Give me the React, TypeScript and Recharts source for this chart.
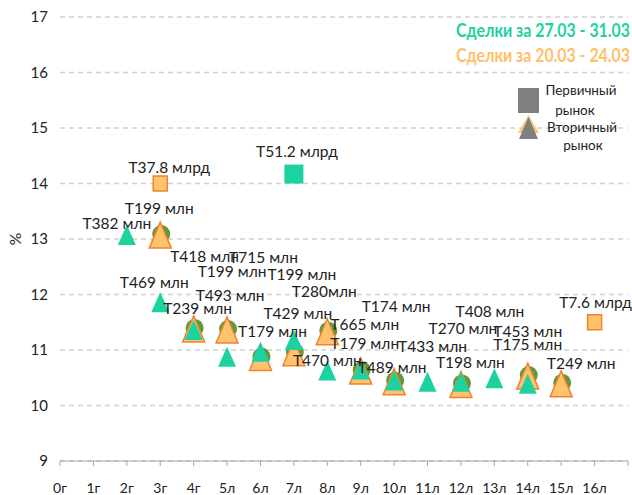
import { CartesianGrid, Scatter, ScatterChart, XAxis, YAxis } from 'recharts';

const GREEN = '#1DD1A1';
const ORANGE_FILL = '#FFC36E';
const ORANGE_LINE = '#F0822D';
const ORANGE_TEXT = '#FFC06A';
const DARK_GREEN = '#5E9A3B';
const GRAY = '#7F7F7F';
const TEXT = '#222222';
const FONT = "Lato, 'Noto Sans', sans-serif";

const CATEGORIES = ['0г', '1г', '2г', '3г', '4г', '5л', '6л', '7л', '8л', '9л', '10л', '11л', '12л', '13л', '14л', '15л', '16л'];
const X_TICKS = [0, 1, 2, 3, 4, 5, 6, 7, 8, 9, 10, 11, 12, 13, 14, 15, 16, 17];
const Y_TICKS = [9, 10, 11, 12, 13, 14, 15, 16, 17];

// Сделки за 27.03 - 31.03, вторичный рынок
const NEW_SEC_X = [2, 3, 4, 5, 6, 7, 8, 9, 10, 11, 12, 13, 14];
const NEW_SEC_Y = [13.07, 11.86, 11.36, 10.88, 10.97, 11.18, 10.63, 10.65, 10.45, 10.43, 10.43, 10.49, 10.39];
const NEW_SEC_LABELS = ['T382 млн', 'T469 млн', 'T239 млн', 'T199 млн', 'T179 млн', 'T429 млн', 'T470 млн', 'T179 млн', 'T489 млн', 'T433 млн', 'T270 млн', 'T198 млн', 'T175 млн'];

// Сделки за 20.03 - 24.03, вторичный рынок
const OLD_SEC_X = [3, 4, 5, 6, 7, 8, 9, 10, 12, 14, 15];
const OLD_SEC_Y = [13.07, 11.38, 11.36, 10.865, 10.95, 11.33, 10.62, 10.43, 10.38, 10.53, 10.39];
const OLD_SEC_LABELS = ['T199 млн', 'T418 млн', 'T493 млн', 'T715 млн', 'T199 млн', 'T280млн', 'T665 млн', 'T174 млн', 'T408 млн', 'T453 млн', 'T249 млн'];

// первичный рынок
const NEW_PRIM_X = [7];
const NEW_PRIM_Y = [14.17];
const NEW_PRIM_LABELS = ['T51.2 млрд'];

const OLD_PRIM_X = [3, 16];
const OLD_PRIM_Y = [14.0, 11.5];
const OLD_PRIM_LABELS = ['T37.8 млрд', 'T7.6 млрд'];

// label offsets from the marker, px
const NEW_SEC_OFFSETS = [[-10, -12], [-6, -20], [4, -22], [5, -86], [12, -21], [4, -27], [0, -11], [4, -26], [-2, -14], [5, -36], [2, -54], [-24, -16], [0, -40]];
const OLD_SEC_OFFSETS = [[-1, -27], [11, -73], [3, -35], [3, -100], [8, -79], [-3, -41], [4, -47], [2, -76], [29, -73], [0, -45], [20, -21]];
const NEW_PRIM_OFFSETS = [[3, -23]];
const OLD_PRIM_OFFSETS = [[9, -17], [1, -20]];

const toPoints = (xs: number[], ys: number[], labels: string[]) =>
  xs.map((x, i) => ({ x, y: ys[i], label: labels[i] }));

const toLabelPoints = (xs: number[], ys: number[], labels: string[], offsets: number[][]) =>
  xs.map((x, i) => ({ x, y: ys[i], label: labels[i], dx: offsets[i][0], dy: offsets[i][1] }));

const newSec = toPoints(NEW_SEC_X, NEW_SEC_Y, NEW_SEC_LABELS);
const oldSec = toPoints(OLD_SEC_X, OLD_SEC_Y, OLD_SEC_LABELS);
const newPrim = toPoints(NEW_PRIM_X, NEW_PRIM_Y, NEW_PRIM_LABELS);
const oldPrim = toPoints(OLD_PRIM_X, OLD_PRIM_Y, OLD_PRIM_LABELS);

const labelPoints = [
  ...toLabelPoints(OLD_SEC_X, OLD_SEC_Y, OLD_SEC_LABELS, OLD_SEC_OFFSETS),
  ...toLabelPoints(NEW_SEC_X, NEW_SEC_Y, NEW_SEC_LABELS, NEW_SEC_OFFSETS),
  ...toLabelPoints(NEW_PRIM_X, NEW_PRIM_Y, NEW_PRIM_LABELS, NEW_PRIM_OFFSETS),
  ...toLabelPoints(OLD_PRIM_X, OLD_PRIM_Y, OLD_PRIM_LABELS, OLD_PRIM_OFFSETS),
];

const BackCircle = ({ cx, cy }: any) => <circle cx={cx + 1} cy={cy - 1} r={9} fill={DARK_GREEN} />;

const OrangeTriangle = ({ cx, cy }: any) => (
  <polygon
    points={`${cx},${cy - 13} ${cx + 11},${cy + 13} ${cx - 11},${cy + 13}`}
    fill={ORANGE_FILL}
    stroke={ORANGE_LINE}
    strokeWidth={1.5}
  />
);

const GreenTriangle = ({ cx, cy }: any) => (
  <polygon points={`${cx},${cy - 10} ${cx + 9},${cy + 10} ${cx - 9},${cy + 10}`} fill={GREEN} />
);

const GreenSquare = ({ cx, cy }: any) => <rect x={cx - 9.5} y={cy - 9.5} width={19} height={19} fill={GREEN} />;

const OrangeSquare = ({ cx, cy }: any) => (
  <rect x={cx - 7} y={cy - 7.5} width={14} height={15} fill={ORANGE_FILL} stroke={ORANGE_LINE} strokeWidth={1.5} />
);

const PointLabel = ({ cx, cy, payload }: any) => (
  <text
    x={cx + payload.dx}
    y={cy + payload.dy}
    textAnchor="middle"
    dominantBaseline="central"
    fontSize={15.5}
    fontFamily={FONT}
    fill={TEXT}
  >
    {payload.label}
  </text>
);

export default function App() {
  return (
    <div style={{ position: 'absolute', left: 0, top: 0, width: 632, height: 495, background: '#fff' }}>
      <ScatterChart width={632} height={495} margin={{ top: 17, right: 4, bottom: 0, left: 0 }}>
        <CartesianGrid vertical={false} stroke="#D0D0D0" strokeDasharray="5 4" strokeWidth={1.3} />
        <XAxis
          type="number"
          dataKey="x"
          domain={[0, 17]}
          ticks={X_TICKS}
          interval={0}
          tickFormatter={(v: number) => CATEGORIES[v] ?? ''}
          stroke="#A6A6A6"
          tickSize={5}
          tickMargin={17}
          height={34}
          tick={{ fill: TEXT, fontSize: 14, fontFamily: FONT }}
        />
        <YAxis
          type="number"
          dataKey="y"
          domain={[9, 17]}
          ticks={Y_TICKS}
          interval={0}
          axisLine={false}
          tickLine={false}
          tickSize={0}
          tickMargin={12}
          width={60}
          tick={{ fill: TEXT, fontSize: 15, fontFamily: FONT }}
        />
        <Scatter data={oldSec} shape={BackCircle} isAnimationActive={false} />
        <Scatter data={oldSec} shape={OrangeTriangle} isAnimationActive={false} />
        <Scatter data={newSec} shape={GreenTriangle} isAnimationActive={false} />
        <Scatter data={oldPrim} shape={OrangeSquare} isAnimationActive={false} />
        <Scatter data={newPrim} shape={GreenSquare} isAnimationActive={false} />
        <Scatter data={labelPoints} shape={PointLabel} isAnimationActive={false} />
      </ScatterChart>
      <svg width={632} height={495} style={{ position: 'absolute', left: 0, top: 0, pointerEvents: 'none' }}>
        <text
          x={14}
          y={239}
          transform="rotate(-90 14 239)"
          textAnchor="middle"
          dominantBaseline="central"
          fontSize={16}
          fontFamily={FONT}
          fill={TEXT}
        >
          %
        </text>
        <text x={630} y={37} textAnchor="end" fontSize={19} fontWeight="bold" fontFamily={FONT} fill={GREEN} textLength={174} lengthAdjust="spacingAndGlyphs">
          Сделки за 27.03 - 31.03
        </text>
        <text x={630} y={62} textAnchor="end" fontSize={19} fontWeight="bold" fontFamily={FONT} fill={ORANGE_TEXT} textLength={174} lengthAdjust="spacingAndGlyphs">
          Сделки за 20.03 - 24.03
        </text>
        <rect x={518} y={88} width={21} height={25} fill={GRAY} />
        <polygon points="528.5,115 539,133 518,133" fill={ORANGE_FILL} />
        <polygon points="528.5,117 538,139 519,139" fill={GRAY} />
        <text x={581} y={95} textAnchor="middle" fontSize={13.5} fontFamily={FONT} fill={TEXT}>Первичный</text>
        <text x={575} y={114.5} textAnchor="middle" fontSize={13.5} fontFamily={FONT} fill={TEXT}>рынок</text>
        <text x={582} y={132} textAnchor="middle" fontSize={13.5} fontFamily={FONT} fill={TEXT}>Вторичный</text>
        <text x={583} y={150} textAnchor="middle" fontSize={13.5} fontFamily={FONT} fill={TEXT}>рынок</text>
      </svg>
    </div>
  );
}
